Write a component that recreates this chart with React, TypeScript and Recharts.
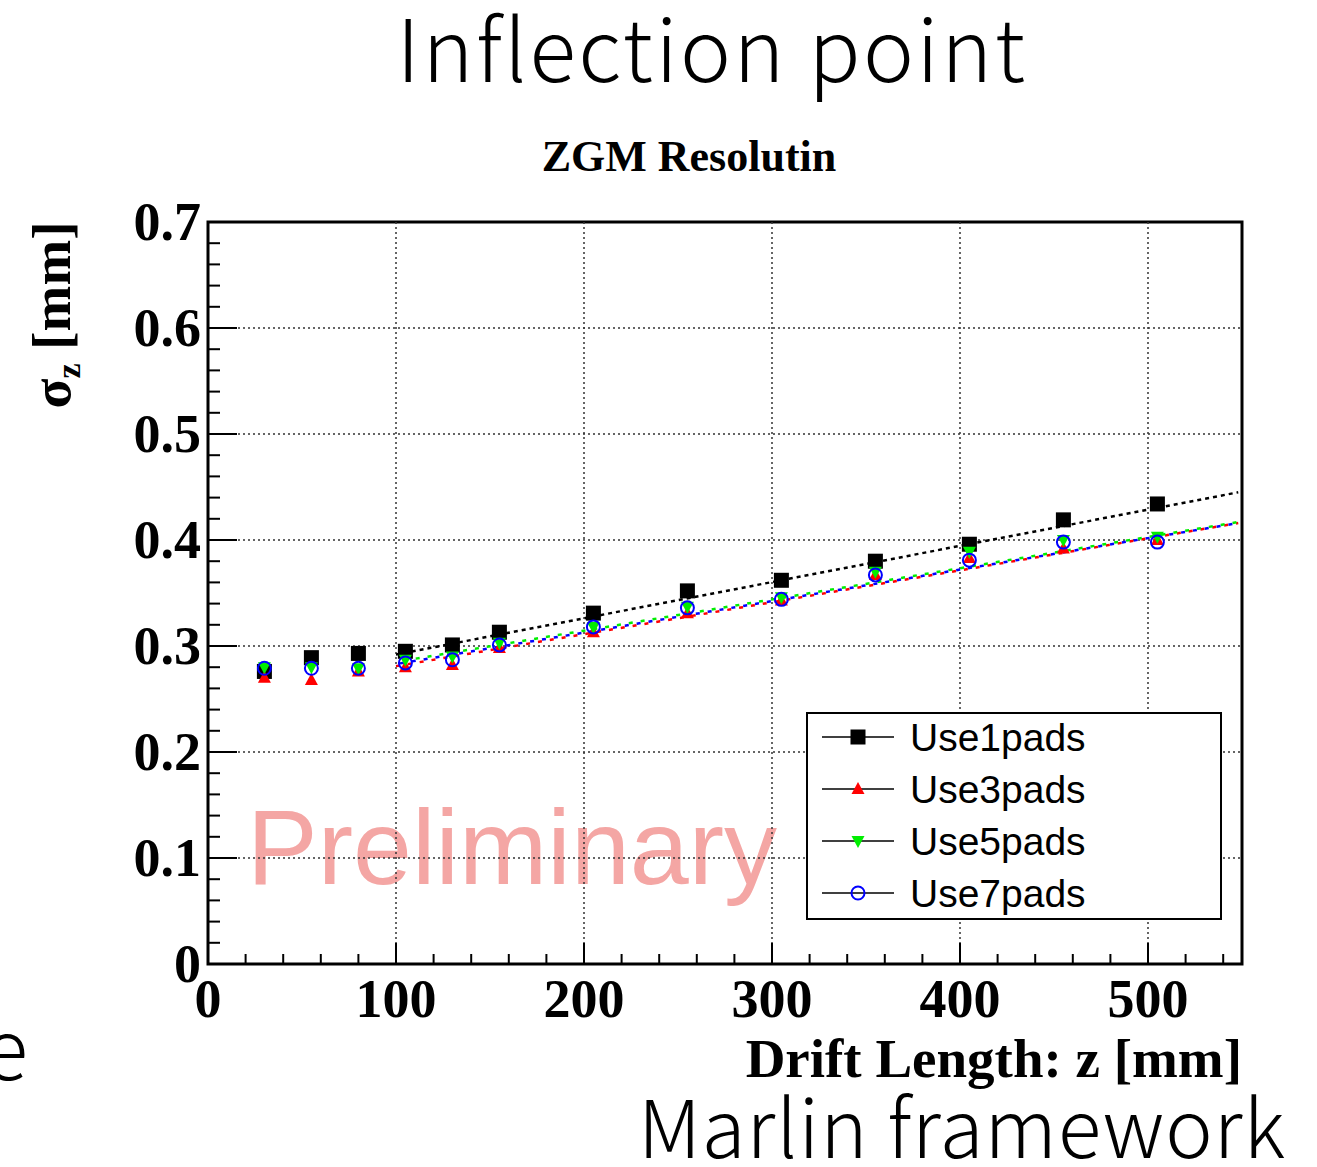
import React from 'react';
import {
  ComposedChart, XAxis, YAxis, Scatter, Line, ReferenceLine, ReferenceArea, Legend,
} from 'recharts';

// drift length of each point [mm]
const Z_MM = [30, 55, 80, 105, 130, 155, 205, 255, 305, 355, 405, 455, 505];

// sigma_z [mm] per pad setting
const USE1 = [0.276, 0.289, 0.293, 0.295, 0.301, 0.313, 0.331, 0.352, 0.362, 0.380, 0.396, 0.419, 0.434];
const USE3 = [0.270, 0.268, 0.276, 0.280, 0.282, 0.298, 0.313, 0.331, 0.343, 0.367, 0.383, 0.392, 0.400];
const USE5 = [0.280, 0.280, 0.279, 0.287, 0.290, 0.303, 0.318, 0.337, 0.346, 0.370, 0.389, 0.400, 0.403];
const USE7 = [0.279, 0.279, 0.279, 0.284, 0.287, 0.301, 0.318, 0.336, 0.344, 0.367, 0.381, 0.398, 0.398];

// fit line ends
const FIT_Z = [100, 548];
const FIT1 = [0.292, 0.445];
const FIT3 = [0.281, 0.416];
const FIT5 = [0.285, 0.417];
const FIT7 = [0.283, 0.416];

const X_TICKS = [0, 20, 40, 60, 80, 100, 120, 140, 160, 180, 200, 220, 240, 260, 280, 300, 320, 340, 360, 380, 400, 420, 440, 460, 480, 500, 520, 540];
const Y_TICKS = [0, 0.02, 0.04, 0.06, 0.08, 0.1, 0.12, 0.14, 0.16, 0.18, 0.2, 0.22, 0.24, 0.26, 0.28, 0.3, 0.32, 0.34, 0.36, 0.38, 0.4, 0.42, 0.44, 0.46, 0.48, 0.5, 0.52, 0.54, 0.56, 0.58, 0.6, 0.62, 0.64, 0.66, 0.68, 0.7];
const X_GRID = [100, 200, 300, 400, 500];
const Y_GRID = [0.1, 0.2, 0.3, 0.4, 0.5, 0.6];

const SERIES_NAMES = ['Use1pads', 'Use3pads', 'Use5pads', 'Use7pads'];

const toPoints = (ys: number[]) => Z_MM.map((x, i) => ({ x, y: ys[i] }));
const toFit = (ys: number[]) => FIT_Z.map((x, i) => ({ x, y: ys[i] }));

const SERIF = '"Liberation Serif", "Times New Roman", serif';
const SANS = '"Liberation Sans", Arial, sans-serif';
const SLIDE = '"Noto Sans CJK JP", "Noto Sans", sans-serif';

function Marker({ kind, cx, cy }: { kind: string; cx: number; cy: number }) {
  if (kind === 'Use1pads') return <rect x={cx - 7.5} y={cy - 7.5} width={15} height={15} fill="#000" />;
  if (kind === 'Use3pads')
    return <polygon points={`${cx - 6.5},${cy + 5} ${cx + 6.5},${cy + 5} ${cx},${cy - 7}`} fill="#ff0000" />;
  if (kind === 'Use5pads')
    return <polygon points={`${cx - 6.5},${cy - 5} ${cx + 6.5},${cy - 5} ${cx},${cy + 7}`} fill="#00ee00" />;
  return <circle cx={cx} cy={cy} r={6.5} fill="none" stroke="#0000ff" strokeWidth={2} />;
}

const shapeFor = (kind: string) => (p: any) => <Marker kind={kind} cx={p.cx} cy={p.cy} />;

function XTick({ x, y, payload }: any) {
  const v = payload.value;
  const major = v % 100 === 0;
  return (
    <g>
      <line x1={x} x2={x} y1={y} y2={y - (major ? 21 : 10)} stroke="#000" strokeWidth={2} />
      {major && (
        <text x={x} y={y + 53} textAnchor="middle" fontFamily={SERIF} fontWeight="bold" fontSize={54} fill="#000">
          {v}
        </text>
      )}
    </g>
  );
}

function YTick({ x, y, payload }: any) {
  const v = payload.value;
  const major = Math.abs(v * 10 - Math.round(v * 10)) < 1e-6;
  return (
    <g>
      <line x1={x} x2={x + (major ? 29 : 12)} y1={y} y2={y} stroke="#000" strokeWidth={2} />
      {major && (
        <text x={x - 7} y={y + 18} textAnchor="end" fontFamily={SERIF} fontWeight="bold" fontSize={54} fill="#000">
          {v === 0 ? '0' : v.toFixed(1)}
        </text>
      )}
    </g>
  );
}

function LegendBox({ payload }: any) {
  const names: string[] = (payload ?? []).map((p: any) => p.value).filter((n: string) => SERIES_NAMES.includes(n));
  const rows = names.length ? names : SERIES_NAMES;
  return (
    <svg width={416} height={208} style={{ display: 'block' }}>
      <rect x={1} y={1} width={414} height={206} fill="#fff" stroke="#000" strokeWidth={2} />
      {rows.map((name, i) => {
        const cy = 25 + i * 52;
        return (
          <g key={name}>
            <line x1={16} x2={88} y1={cy} y2={cy} stroke="#000" strokeWidth={1.5} />
            <Marker kind={name} cx={52} cy={cy} />
            <text x={104} y={cy + 14} fontFamily={SANS} fontSize={39} fill="#000">{name}</text>
          </g>
        );
      })}
    </svg>
  );
}

export default function App() {
  return (
    <div style={{ position: 'absolute', left: 0, top: 0, width: 1317, height: 1167, background: '#fff', overflow: 'hidden' }}>
      <svg width={1317} height={1167} style={{ position: 'absolute', left: 0, top: 0 }}>
        <text x={712} y={82} textAnchor="middle" fontFamily={SLIDE} fontWeight={300} fontSize={86} letterSpacing={2.5} fill="#000">Inflection point</text>
        <text x={689} y={171} textAnchor="middle" fontFamily={SERIF} fontWeight="bold" fontSize={44} fill="#000">ZGM Resolutin</text>
        <text x={247} y={884} fontFamily={SANS} fontSize={106} fill="#f4a6a4">Preliminary</text>
        <text transform="translate(70,315) rotate(-90)" textAnchor="middle" fontFamily={SERIF} fontWeight="bold" fontSize={55} fill="#000">
          σ<tspan fontSize={34} dy={10}>z</tspan><tspan dy={-10}> [mm]</tspan>
        </text>
        <text x={1242} y={1077} textAnchor="end" fontFamily={SERIF} fontWeight="bold" fontSize={55} fill="#000">Drift Length: z [mm]</text>
        <text x={962} y={1158} textAnchor="middle" fontFamily={SLIDE} fontWeight={300} fontSize={80} letterSpacing={1} fill="#000">Marlin framework</text>
        <text x={28} y={1080} textAnchor="end" fontFamily={SLIDE} fontWeight={300} fontSize={84} fill="#000">e</text>
      </svg>
      <div style={{ position: 'absolute', left: 0, top: 0 }}>
        <ComposedChart width={1317} height={1167} margin={{ top: 222, right: 75, bottom: 202, left: 207 }}>
          <XAxis
            dataKey="x"
            type="number"
            domain={[0, 550]}
            ticks={X_TICKS}
            interval={0}
            height={1}
            tickSize={0}
            tickMargin={0}
            axisLine={false}
            tick={(p: any) => <XTick {...p} />}
            allowDataOverflow
          />
          <YAxis
            dataKey="y"
            type="number"
            domain={[0, 0.7]}
            ticks={Y_TICKS}
            interval={0}
            width={1}
            tickSize={0}
            tickMargin={0}
            axisLine={false}
            tick={(p: any) => <YTick {...p} />}
            allowDataOverflow
          />
          {X_GRID.map(v => (
            <ReferenceLine key={`gx${v}`} x={v} stroke="#333" strokeWidth={1.5} strokeDasharray="2 3" />
          ))}
          {Y_GRID.map(v => (
            <ReferenceLine key={`gy${v}`} y={v} stroke="#333" strokeWidth={1.5} strokeDasharray="2 3" />
          ))}
          <Line data={toFit(FIT1)} dataKey="y" type="linear" stroke="#000" strokeWidth={2.5} strokeDasharray="4 4" dot={false} activeDot={false} legendType="none" isAnimationActive={false} />
          <Line data={toFit(FIT3)} dataKey="y" type="linear" stroke="#ff0000" strokeWidth={2.5} strokeDasharray="4 8" dot={false} activeDot={false} legendType="none" isAnimationActive={false} />
          <Line data={toFit(FIT5)} dataKey="y" type="linear" stroke="#00ee00" strokeWidth={2.5} strokeDasharray="4 8" strokeDashoffset={4} dot={false} activeDot={false} legendType="none" isAnimationActive={false} />
          <Line data={toFit(FIT7)} dataKey="y" type="linear" stroke="#0000ff" strokeWidth={2.5} strokeDasharray="4 8" strokeDashoffset={8} dot={false} activeDot={false} legendType="none" isAnimationActive={false} />
          <Scatter name="Use1pads" data={toPoints(USE1)} fill="#000" shape={shapeFor('Use1pads')} isAnimationActive={false} />
          <Scatter name="Use3pads" data={toPoints(USE3)} fill="#ff0000" shape={shapeFor('Use3pads')} isAnimationActive={false} />
          <Scatter name="Use5pads" data={toPoints(USE5)} fill="#00ee00" shape={shapeFor('Use5pads')} isAnimationActive={false} />
          <Scatter name="Use7pads" data={toPoints(USE7)} fill="#0000ff" shape={shapeFor('Use7pads')} isAnimationActive={false} />
          <ReferenceArea x1={0} x2={550} y1={0} y2={0.7} fill="none" stroke="#000" strokeWidth={3} />
          <Legend
            layout="vertical"
            align="center"
            verticalAlign="middle"
            wrapperStyle={{ left: 806, top: 712, width: 416, height: 208 }}
            content={<LegendBox />}
          />
        </ComposedChart>
      </div>
    </div>
  );
}
